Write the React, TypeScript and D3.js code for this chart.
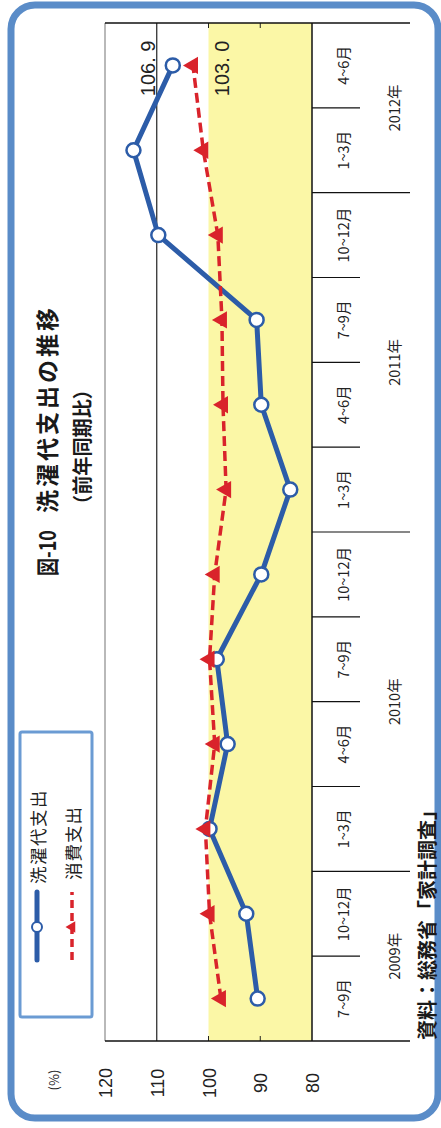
import React from "react";
import * as d3 from "d3";

const categories = ["7~9月", "10~12月", "1~3月", "4~6月", "7~9月", "10~12月", "1~3月", "4~6月", "7~9月", "10~12月", "1~3月", "4~6月"];
const yearLabels = ["2009年", "2010年", "2011年", "2012年"];
const yearSpans = [2, 4, 4, 2];
const laundry = [90.5, 92.7, 99.8, 96.3, 98.4, 89.8, 84.2, 89.8, 90.7, 109.7, 114.5, 106.9];
const consumption = [97.6, 99.8, 100.6, 98.8, 99.8, 98.8, 96.6, 97.2, 97.4, 98.2, 101.0, 103.0];
const valueTicks = [120, 110, 100, 90, 80];
const seriesNames = ["洗濯代支出", "消費支出"];

const W = 441;
const H = 1128;
const BLUE = "#2c5ca8";
const RED = "#d9232b";
const YELLOW = "#fbf7a6";
const FRAME = "#5a8cc8";
const JP = "'Noto Sans CJK JP', sans-serif";
const NUM = "'Liberation Sans', Arial, sans-serif";

export default function App() {
  // unrotated frame: u along time (0..H), v along value (0..W)
  const x = d3.scaleBand<number>().domain(d3.range(categories.length)).range([87, 1105]).padding(0);
  const y = d3.scaleLinear().domain([80, 120]).range([312, 105]);
  const bw = x.bandwidth();
  const cx = (i: number) => (x(i) as number) + bw / 2;
  const line = d3.line<number>().x((_, i) => cx(i)).y((d) => y(d));
  const tri = d3.symbol().type(d3.symbolTriangle).size(130)();
  const triSmall = d3.symbol().type(d3.symbolTriangle).size(55)();
  const u0 = 87;
  const u1 = 1105;

  const yearStarts: number[] = [];
  let acc = 0;
  yearSpans.forEach((s) => {
    yearStarts.push(acc);
    acc += s;
  });

  const fmt = (v: number) => v.toFixed(1).replace(".", ". ");
  const last = categories.length - 1;

  return (
    <svg width={W} height={H} style={{ position: "absolute", left: 0, top: 0, background: "#fff" }}>
      <rect x={11} y={5} width={427} height={1113} rx={24} ry={24} fill="#fff" stroke={FRAME} strokeWidth={7} />
      <g transform={`translate(0,${H}) rotate(-90)`}>
        <rect x={u0} y={y(100)} width={u1 - u0} height={y(80) - y(100)} fill={YELLOW} />
        <line x1={u0} x2={u1} y1={y(120)} y2={y(120)} stroke="#8a8a8a" strokeWidth={1.2} />
        <line x1={u0} x2={u1} y1={y(110)} y2={y(110)} stroke="#222" strokeWidth={1.2} />
        {[100, 90].map((t) => (
          <g key={t}>
            <line x1={u0} x2={u0 + 5} y1={y(t)} y2={y(t)} stroke="#222" strokeWidth={1} />
            <line x1={u1} x2={u1 - 5} y1={y(t)} y2={y(t)} stroke="#222" strokeWidth={1} />
          </g>
        ))}
        <line x1={u0} x2={u1} y1={y(80)} y2={y(80)} stroke="#111" strokeWidth={1.5} />
        <line x1={u0} x2={u0} y1={y(120)} y2={410} stroke="#111" strokeWidth={1.5} />
        <line x1={u1} x2={u1} y1={y(120)} y2={410} stroke="#111" strokeWidth={1.5} />
        {d3.range(1, categories.length).map((i) => {
          const isYear = yearStarts.includes(i);
          return (
            <line key={i} x1={x(i) as number} x2={x(i) as number} y1={y(80)} y2={isYear ? 410 : 360} stroke="#111" strokeWidth={1.2} />
          );
        })}
        {categories.map((c, i) => (
          <text key={i} x={cx(i)} y={342} textAnchor="middle" dominantBaseline="central" fontFamily={JP} fontSize={14.5} fill="#222">
            {c}
          </text>
        ))}
        {yearLabels.map((yl, k) => {
          const a = x(yearStarts[k]) as number;
          const b = (x(yearStarts[k] + yearSpans[k] - 1) as number) + bw;
          return (
            <text key={yl} x={(a + b) / 2} y={393} textAnchor="middle" dominantBaseline="central" fontFamily={JP} fontSize={14.5} fill="#222">
              {yl}
            </text>
          );
        })}
        {valueTicks.map((t) => (
          <text key={t} x={45} y={y(t) + 1} textAnchor="middle" dominantBaseline="central" fontFamily={NUM} fontSize={18} fill="#222">
            {t}
          </text>
        ))}
        <text x={48} y={53} textAnchor="middle" dominantBaseline="central" fontFamily={JP} fontSize={13} fill="#222">
          (%)
        </text>
        <path d={line(laundry) || ""} fill="none" stroke={BLUE} strokeWidth={5} strokeLinejoin="round" />
        {laundry.map((v, i) => (
          <circle key={i} cx={cx(i)} cy={y(v)} r={7} fill="#fff" stroke={BLUE} strokeWidth={2.5} />
        ))}
        <path d={line(consumption) || ""} fill="none" stroke={RED} strokeWidth={3.5} strokeDasharray="10,5" />
        {consumption.map((v, i) => (
          <path key={i} d={tri || ""} transform={`translate(${cx(i)},${y(v)})`} fill={RED} />
        ))}
        <text x={cx(last) - 3} y={148} textAnchor="middle" dominantBaseline="central" fontFamily={NUM} fontSize={20} fill="#222">
          {fmt(laundry[last])}
        </text>
        <text x={cx(last) - 3} y={222} textAnchor="middle" dominantBaseline="central" fontFamily={NUM} fontSize={20} fill="#222">
          {fmt(consumption[last])}
        </text>
        <text x={552} y={46} dominantBaseline="central" fontFamily={JP} fontSize={23} fontWeight={700} fill="#1a1a1a" textLength={46} lengthAdjust="spacingAndGlyphs">
          図-10
        </text>
        <text x={615} y={46} dominantBaseline="central" fontFamily={JP} fontSize={23} fontWeight={700} letterSpacing={3} fill="#1a1a1a">
          洗濯代支出の推移
        </text>
        <text x={614} y={81} dominantBaseline="central" fontFamily={JP} fontSize={20} fontWeight={700} fill="#1a1a1a" textLength={134} lengthAdjust="spacingAndGlyphs">
          （前年同期比）
        </text>
        <rect x={111} y={20} width={285} height={72} fill="#fff" stroke="#6b9bd3" strokeWidth={3} rx={2} />
        <line x1={168} x2={236} y1={37} y2={37} stroke={BLUE} strokeWidth={5} strokeLinecap="round" />
        <circle cx={201} cy={37} r={5} fill="#fff" stroke={BLUE} strokeWidth={2} />
        <text x={244} y={37} dominantBaseline="central" fontFamily={JP} fontSize={17.5} letterSpacing={1.5} fill="#222">
          {seriesNames[0]}
        </text>
        <line x1={168} x2={236} y1={72} y2={72} stroke={RED} strokeWidth={3.5} strokeDasharray="8,5" />
        <path d={triSmall || ""} transform={`translate(201,72)`} fill={RED} />
        <text x={248} y={72} dominantBaseline="central" fontFamily={JP} fontSize={17.5} letterSpacing={1} fill="#222">
          {seriesNames[1]}
        </text>
        <text x={88} y={426} dominantBaseline="central" fontFamily={JP} fontSize={20} fontWeight={700} fill="#1a1a1a">
          資料：総務省「家計調査」
        </text>
      </g>
    </svg>
  );
}
